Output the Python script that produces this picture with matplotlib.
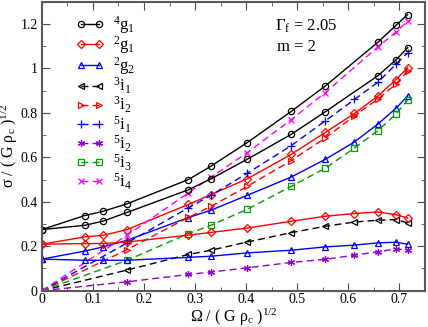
# Частоты мод в зависимости от угловой скорости
import matplotlib
matplotlib.use('Agg')
import matplotlib.pyplot as plt
from matplotlib.ticker import MultipleLocator

plt.rcParams['font.family'] = 'Liberation Serif'
plt.rcParams['mathtext.fontset'] = 'custom'
plt.rcParams['mathtext.rm'] = 'Liberation Serif'
plt.rcParams['mathtext.it'] = 'Liberation Serif:italic'
plt.rcParams['mathtext.default'] = 'regular'

# Данные
x_g = [0, 0.084, 0.12, 0.167, 0.287, 0.331, 0.402, 0.488, 0.555, 0.658, 0.693, 0.716]
g41_up = [0.275, 0.338, 0.357, 0.391, 0.500, 0.560, 0.666, 0.806, 0.921, 1.118, 1.193, 1.242]
g41_lo = [0.275, 0.294, 0.313, 0.352, 0.454, 0.503, 0.591, 0.703, 0.805, 0.967, 1.038, 1.093]

x_g2 = [0, 0.084, 0.12, 0.167, 0.287, 0.331, 0.402, 0.488, 0.555, 0.612, 0.658, 0.693, 0.716]
g21_up = [0.209, 0.242, 0.249, 0.275, 0.388, 0.432, 0.503, 0.613, 0.712, 0.797, 0.876, 0.949, 1.003]
g21_lo = [0.209, 0.212, 0.212, 0.219, 0.250, 0.262, 0.282, 0.312, 0.335, 0.347, 0.354, 0.342, 0.327]
g22_up = [0.142, 0.178, 0.197, 0.227, 0.329, 0.362, 0.429, 0.511, 0.591, 0.669, 0.750, 0.820, 0.876]
g22_lo = [0.142, 0.137, 0.137, 0.137, 0.150, 0.155, 0.170, 0.182, 0.197, 0.205, 0.215, 0.218, 0.209]

x_i = [0, 0.167, 0.287, 0.331, 0.402, 0.488, 0.555, 0.612, 0.658, 0.693, 0.716]
i31 = [0, 0.093, 0.163, 0.182, 0.219, 0.261, 0.290, 0.309, 0.317, 0.320, 0.305]
i32 = [0, 0.185, 0.330, 0.379, 0.469, 0.585, 0.687, 0.787, 0.862, 0.929, 0.988]
i51 = [0, 0.215, 0.373, 0.429, 0.528, 0.652, 0.764, 0.860, 0.938, 1.018, 1.070]
i52 = [0, 0.040, 0.073, 0.084, 0.103, 0.127, 0.141, 0.160, 0.175, 0.188, 0.182]
i53 = [0, 0.137, 0.257, 0.294, 0.366, 0.469, 0.551, 0.642, 0.720, 0.794, 0.857]

x_i54 = [0, 0.167, 0.287, 0.331, 0.402, 0.488, 0.555, 0.658, 0.693, 0.716]
i54 = [0, 0.250, 0.440, 0.510, 0.621, 0.769, 0.891, 1.097, 1.163, 1.212]

violet = '#9400d3'
green = '#00a000'
dash = (0, (5, 3))

fig = plt.figure(figsize=(4.28, 3.27), dpi=100)
ax = fig.add_axes([0.0977, 0.111, 0.8953, 0.884])

kw = dict(lw=1, mfc='none', mew=0.9)
ax.plot(x_g, g41_up, color='black', marker='o', ms=4.5, label=r'$^{4}$g$_{1}$', **kw)
ax.plot(x_g2, g21_up, color='red', marker='D', ms=3.8, label=r'$^{2}$g$_{1}$', **kw)
ax.plot(x_g2, g22_up, color='blue', marker='^', ms=4.8, label=r'$^{2}$g$_{2}$', **kw)
ax.plot(x_i, i31, color='black', marker='<', ms=4.8, ls=dash, label=r'$^{3}$i$_{1}$', **kw)
ax.plot(x_i, i32, color='red', marker='>', ms=4.8, ls=dash, label=r'$^{3}$i$_{2}$', **kw)
ax.plot(x_i, i51, color='blue', marker='+', ms=5.5, ls=dash, label=r'$^{5}$i$_{1}$', **kw)
ax.plot(x_i, i52, color=violet, marker=(6, 2, 0), ms=5, ls=dash, label=r'$^{5}$i$_{2}$', **kw)
ax.plot(x_i, i53, color=green, marker='s', ms=4.2, ls=dash, label=r'$^{5}$i$_{3}$', **kw)
ax.plot(x_i54, i54, color='magenta', marker='x', ms=4.2, ls=dash, label=r'$^{5}$i$_{4}$', **kw)

# вторые ветви (без легенды)
ax.plot(x_g, g41_lo, color='black', marker='o', ms=4.5, **kw)
ax.plot(x_g2, g21_lo, color='red', marker='D', ms=3.8, **kw)
ax.plot(x_g2, g22_lo, color='blue', marker='^', ms=4.8, **kw)

ax.set_xlim(0, 0.75)
ax.set_ylim(0, 1.3)
ax.set_xticks([0, 0.1, 0.2, 0.3, 0.4, 0.5, 0.6, 0.7])
ax.set_xticklabels(['0', '0.1', '0.2', '0.3', '0.4', '0.5', '0.6', '0.7'])
ax.set_yticks([0, 0.2, 0.4, 0.6, 0.8, 1.0, 1.2])
ax.set_yticklabels(['0', '0.2', '0.4', '0.6', '0.8', '1', '1.2'])
ax.xaxis.set_minor_locator(MultipleLocator(0.05))
ax.yaxis.set_minor_locator(MultipleLocator(0.1))
ax.tick_params(which='both', direction='in', top=True, right=True, labelsize=10, color='0.3')
ax.tick_params(which='major', length=6)
ax.tick_params(which='minor', length=3)
ax.tick_params(axis='x', pad=2)
ax.tick_params(axis='y', pad=3)
for s in ax.spines.values():
    s.set_linewidth(1.5)
    s.set_color('0.35')

ax.set_xlabel(r'Ω / ( G ρ$_{c}$ )$^{1/2}$', fontsize=11.5, labelpad=0)
ax.set_ylabel(r'σ / ( G ρ$_{c}$ )$^{1/2}$', fontsize=11.5, labelpad=0)

ax.text(0.609, 0.901, r'Γ$_{f}$ = 2.05', transform=ax.transAxes, fontsize=12)
ax.text(0.613, 0.83, 'm = 2', transform=ax.transAxes, fontsize=12)

ax.legend(loc='upper left', bbox_to_anchor=(0.05, 1.01), frameon=False, fontsize=12,
          handlelength=1.7, numpoints=2, labelspacing=-0.07, handletextpad=0.5)

plt.savefig('out.png', dpi=100)
